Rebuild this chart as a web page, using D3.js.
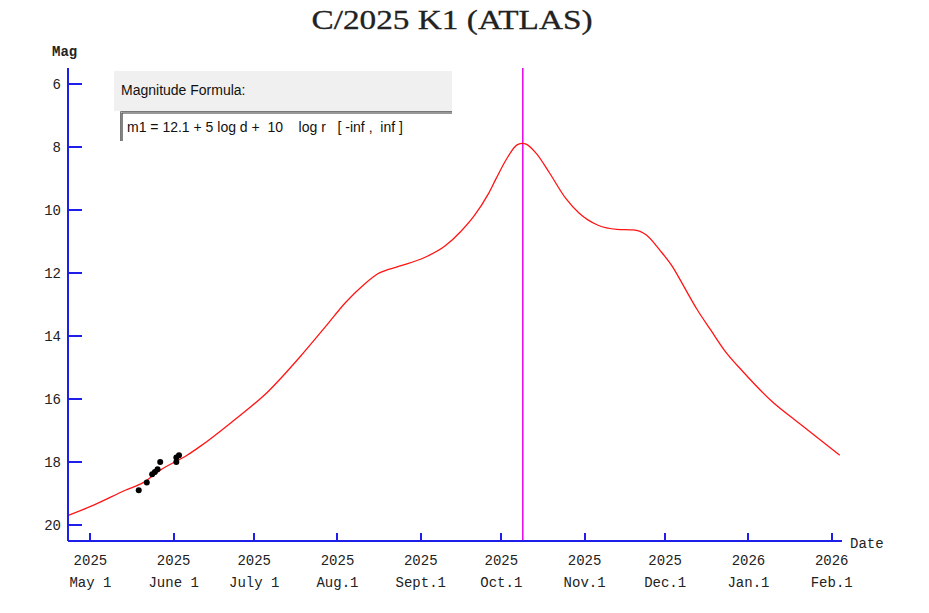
<!DOCTYPE html>
<html>
<head>
    <meta charset="utf-8">
    <style>
        body{
            margin: 0;
            background-color: white;
        }
        svg{
            display: block;
        }
        .axis-line, .tick-line {
            stroke: rgb(30,30,235);
            stroke-width: 2px;
            shape-rendering: crispEdges;
        }
        .lbl {
            font-family: "Liberation Mono", "DejaVu Sans Mono", monospace;
            font-size: 14px;
            fill: #222;
        }
        .plotArea path{
            fill: none;
            stroke-width: 1.3px;
            stroke: rgb(255, 20, 20);
        }
    </style>
</head>
<body>
    <svg class="vis"></svg>

    <script src="https://cdnjs.cloudflare.com/ajax/libs/d3/7.8.5/d3.min.js"></script>
    <script>

        var width = 929;
        var height = 613;

        var title = "C/2025 K1 (ATLAS)";
        var formulaTitle = "Magnitude Formula:";
        var formulaText = "m1 = 12.1 + 5 log d +  10    log r   [ -inf ,  inf ]";

        // light curve
        var curveDates = ["2025-04-23", "2025-05-02", "2025-05-14", "2025-05-21", "2025-05-27",
                          "2025-06-06", "2025-06-11", "2025-06-23", "2025-07-06", "2025-07-18",
                          "2025-07-28", "2025-08-04", "2025-08-11", "2025-08-16", "2025-08-24",
                          "2025-09-02", "2025-09-10", "2025-09-16", "2025-09-21", "2025-09-26",
                          "2025-09-29", "2025-10-03", "2025-10-07", "2025-10-09", "2025-10-10",
                          "2025-10-14", "2025-10-19", "2025-10-25", "2025-10-30", "2025-11-06",
                          "2025-11-13", "2025-11-19", "2025-11-24", "2025-11-29", "2025-12-04",
                          "2025-12-08", "2025-12-13", "2025-12-18", "2025-12-23", "2025-12-30",
                          "2026-01-10", "2026-01-20", "2026-02-04"];
        var curveMags = [19.68, 19.37, 18.89, 18.63, 18.25,
                         17.78, 17.49, 16.70, 15.77, 14.66,
                         13.65, 12.93, 12.35, 12.02, 11.78,
                         11.52, 11.14, 10.67, 10.17, 9.51,
                         9.01, 8.37, 7.92, 7.88, 7.90,
                         8.20, 8.83, 9.63, 10.10, 10.48,
                         10.61, 10.63, 10.79, 11.27, 11.83,
                         12.43, 13.17, 13.81, 14.44, 15.13,
                         16.09, 16.77, 17.78];

        // observations
        var obsDates = ["2025-05-19", "2025-05-22", "2025-05-24", "2025-05-25", "2025-05-26",
                        "2025-05-27", "2025-06-02", "2025-06-02", "2025-06-03"];
        var obsMags = [18.89, 18.64, 18.38, 18.31, 18.22, 17.99, 17.99, 17.85, 17.78];

        var perihelion = "2025-10-09";

        var yTicks = [6, 8, 10, 12, 14, 16, 18, 20];
        var xTickDates = ["2025-05-01", "2025-06-01", "2025-07-01", "2025-08-01", "2025-09-01",
                          "2025-10-01", "2025-11-01", "2025-12-01", "2026-01-01", "2026-02-01"];
        var xTickYears = ["2025", "2025", "2025", "2025", "2025", "2025", "2025", "2025", "2026", "2026"];
        var xTickMonths = ["May 1", "June 1", "July 1", "Aug.1", "Sept.1", "Oct.1", "Nov.1", "Dec.1", "Jan.1", "Feb.1"];

        var parse = d3.utcParse("%Y-%m-%d");

        var vis = d3.select("svg.vis")
                 .attr("width", width)
                 .attr("height", height);

        var x = d3.scaleUtc()
            .domain([new Date(Date.UTC(2025, 3, 22, 16)), new Date(Date.UTC(2026, 1, 4, 20))])
            .range([68, 842]);

        var y = d3.scaleLinear()
            .domain([5.49, 20.5])
            .range([68, 541]);

        var x0 = x.range()[0], x1 = x.range()[1];
        var y0 = y.range()[0], y1 = y.range()[1];

        // title
        vis.append("text")
            .attr("x", 452)
            .attr("y", 29)
            .attr("text-anchor", "middle")
            .attr("font-family", "'Liberation Serif', 'DejaVu Serif', serif")
            .attr("font-size", "27px")
            .attr("textLength", 281)
            .attr("lengthAdjust", "spacingAndGlyphs")
            .attr("fill", "#222")
            .attr("stroke", "#222")
            .attr("stroke-width", 0.3)
            .text(title);

        // formula panel
        var fp = vis.append("g").attr("class", "formula");
        fp.append("rect")
            .attr("x", 114).attr("y", 71)
            .attr("width", 338).attr("height", 40)
            .attr("fill", "rgb(240,240,240)");
        fp.append("rect")
            .attr("x", 120).attr("y", 111)
            .attr("width", 332).attr("height", 30)
            .attr("fill", "white");
        fp.append("path")
            .attr("d", "M120.5,141V111.5H452")
            .attr("fill", "none")
            .attr("stroke", "rgb(120,120,120)")
            .attr("stroke-width", 1);
        fp.append("path")
            .attr("d", "M122,141V113H452")
            .attr("fill", "none")
            .attr("stroke", "rgb(50,50,50)")
            .attr("stroke-width", 1.2);
        fp.append("text")
            .attr("x", 121).attr("y", 95)
            .attr("font-family", "'Liberation Sans', Arial, sans-serif")
            .attr("font-size", "14px")
            .attr("fill", "#111")
            .text(formulaTitle);
        fp.append("text")
            .attr("x", 127).attr("y", 132)
            .attr("font-family", "'Liberation Sans', Arial, sans-serif")
            .attr("font-size", "14px")
            .attr("fill", "#111")
            .attr("xml:space", "preserve")
            .style("white-space", "pre")
            .text(formulaText);

        // perihelion marker
        vis.append("line")
            .attr("x1", x(parse(perihelion))).attr("x2", x(parse(perihelion)))
            .attr("y1", y0).attr("y2", y1)
            .attr("stroke", "rgb(230,0,230)")
            .attr("stroke-width", 1.5);

        // axes
        var ax = vis.append("g").attr("class", "axes");
        ax.append("line").attr("class", "axis-line")
            .attr("x1", x0).attr("x2", x0).attr("y1", y0).attr("y2", y1);
        ax.append("line").attr("class", "axis-line")
            .attr("x1", x0).attr("x2", x1).attr("y1", y1).attr("y2", y1);

        ax.selectAll("line.ytick")
            .data(yTicks)
            .enter().append("line")
            .attr("class", "tick-line ytick")
            .attr("x1", x0).attr("x2", x0 + 14)
            .attr("y1", d => y(d)).attr("y2", d => y(d));

        ax.selectAll("text.ylbl")
            .data(yTicks)
            .enter().append("text")
            .attr("class", "lbl ylbl")
            .attr("x", x0 - 7)
            .attr("y", d => y(d) + 5)
            .attr("text-anchor", "end")
            .text(d => d);

        ax.selectAll("line.xtick")
            .data(xTickDates)
            .enter().append("line")
            .attr("class", "tick-line xtick")
            .attr("x1", d => x(parse(d))).attr("x2", d => x(parse(d)))
            .attr("y1", y1 - 8).attr("y2", y1);

        ax.selectAll("text.xyear")
            .data(xTickDates)
            .enter().append("text")
            .attr("class", "lbl xyear")
            .attr("x", d => x(parse(d)))
            .attr("y", y1 + 24)
            .attr("text-anchor", "middle")
            .text((d, i) => xTickYears[i]);

        ax.selectAll("text.xmonth")
            .data(xTickDates)
            .enter().append("text")
            .attr("class", "lbl xmonth")
            .attr("x", d => x(parse(d)))
            .attr("y", y1 + 46)
            .attr("text-anchor", "middle")
            .text((d, i) => xTickMonths[i]);

        ax.append("text").attr("class", "lbl")
            .attr("x", 52).attr("y", 56)
            .attr("font-weight", "bold")
            .attr("font-size", "13px")
            .text("Mag");
        ax.append("text").attr("class", "lbl")
            .attr("x", x1 + 8).attr("y", y1 + 7)
            .text("Date");

        // light curve
        var curve = curveDates.map((d, i) => [parse(d), curveMags[i]]);
        var line = d3.line()
            .x(d => x(d[0]))
            .y(d => y(d[1]))
            .curve(d3.curveMonotoneX);

        vis.append("g").attr("class", "plotArea")
            .append("path")
            .attr("d", line(curve));

        // observations
        vis.append("g").attr("class", "points")
            .selectAll("circle")
            .data(obsDates.map((d, i) => [parse(d), obsMags[i]]))
            .enter().append("circle")
            .attr("cx", d => x(d[0]))
            .attr("cy", d => y(d[1]))
            .attr("r", 3)
            .attr("fill", "black");

    </script>
</body>
</html>
